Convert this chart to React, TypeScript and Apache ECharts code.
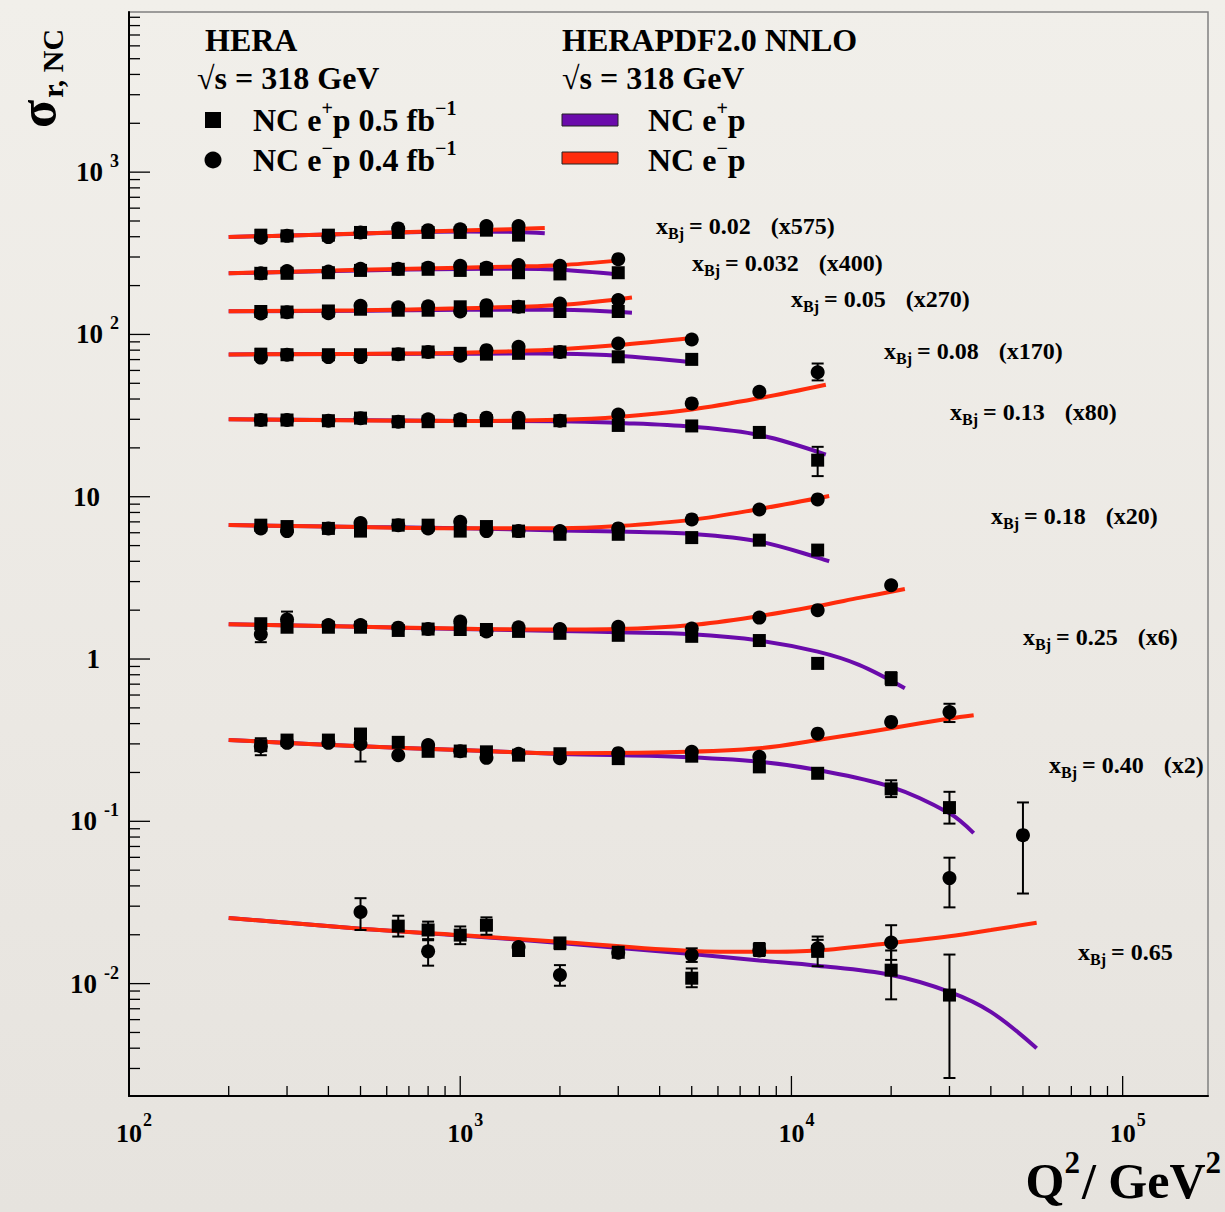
import React, { useEffect, useRef } from "react";
import * as echarts from "echarts";

const W = 1225;
const H = 1212;
const FONT = '"Liberation Serif", "Times New Roman", serif';
const PURPLE = "#6a0bab";
const RED = "#ff2c0c";

// ---------- axis ranges ----------
const X_MIN = 100;
const X_MAX = 181000;
const Y_MIN = 0.00203;
const Y_MAX = 9700;
const X_DECADES = [100, 1000, 10000, 100000];
const Y_DECADES = [0.001, 0.01, 0.1, 1, 10, 100, 1000];

// ---------- Q² bins of the measurements ----------
const Q2_BINS = [250, 300, 400, 500, 650, 800, 1000, 1200, 1500, 2000, 3000, 5000, 8000, 12000, 20000, 30000, 50000];

// ---------- bin labels ----------
const X_BJ = ["0.02", "0.032", "0.05", "0.08", "0.13", "0.18", "0.25", "0.40", "0.65"];
const SCALE_FACTORS = ["575", "400", "270", "170", "80", "20", "6", "2", ""];

// ---------- measured points (scaled), rows x = 0.02 ... 0.40 start at Q² = 250 ----------
const EP_R1 = [409, 405, 409, 425, 425, 425, 425, 439, 409];
const EM_R1 = [394, 405, 398, 425, 450, 439, 445, 465, 465];
const EP_R2 = [238, 238, 240, 248, 252, 252, 248, 252, 240, 236, 240];
const EM_R2 = [238, 246, 244, 254, 254, 258, 265, 258, 268, 265, 291];
const EP_R3 = [138.5, 137.5, 139.5, 143, 141, 141, 148, 139.5, 148, 138.5, 138.5];
const EM_R3 = [134.6, 137, 135, 150, 147, 149, 138.5, 151.5, 148, 155, 163];
const EP_R4 = [75.6, 75, 75, 75, 75.6, 78, 76.5, 75.6, 76.5, 78, 72.8, 70.2];
const EM_R4 = [72, 75, 72.5, 72.5, 75.6, 78, 74, 80, 84, 78, 88, 93];
const EP_R5 = [29.7, 29.7, 29.4, 30.5, 29.0, 29.0, 29.4, 29.4, 28.5, 29.4, 27.5, 27.3, 24.9, 16.8];
const EM_R5 = [29.7, 29.7, 29.4, 30.5, 29.0, 30.0, 30.0, 30.7, 30.7, 29.4, 32.1, 37.6, 44.3, 58.5];
const EP_R6 = [6.68, 6.55, 6.38, 6.14, 6.68, 6.68, 6.14, 6.55, 6.14, 5.87, 5.87, 5.6, 5.4, 4.69];
const EM_R6 = [6.38, 6.14, 6.38, 6.88, 6.68, 6.38, 7.0, 6.14, 6.14, 6.14, 6.38, 7.25, 8.35, 9.63];
const EP_R7 = [1.65, 1.57, 1.57, 1.57, 1.5, 1.53, 1.52, 1.52, 1.48, 1.44, 1.4, 1.38, 1.3, 0.94, 0.76];
const EM_R7 = [1.42, 1.75, 1.62, 1.62, 1.56, 1.53, 1.7, 1.48, 1.57, 1.53, 1.58, 1.54, 1.8, 2.0, 2.85];
const EP_R8 = [0.2925, 0.3166, 0.3166, 0.345, 0.3067, 0.27, 0.271, 0.268, 0.2555, 0.2608, 0.2434, 0.252, 0.2165, 0.1977, 0.1585, 0.1215];
const EM_R8 = [0.29, 0.3045, 0.3045, 0.3, 0.2555, 0.295, 0.27, 0.246, 0.2608, 0.245, 0.263, 0.268, 0.2497, 0.347, 0.4097, 0.471];
// x = 0.65 row (own Q² lists)
const Q2_R9_EP = [650, 800, 1000, 1200, 1500, 2000, 3000, 5000, 8000, 12000, 20000, 30000];
const EP_R9 = [0.0226, 0.0214, 0.0199, 0.0229, 0.016, 0.0178, 0.0156, 0.0108, 0.0162, 0.0158, 0.0121, 0.0085];
const Q2_R9_EM = [500, 800, 1500, 2000, 3000, 5000, 8000, 12000, 20000, 30000, 50000];
const EM_R9 = [0.0276, 0.0158, 0.0168, 0.0113, 0.0155, 0.015, 0.016, 0.0165, 0.0179, 0.0447, 0.0822];

// ---------- error bars [Q², low, high] ----------
const ERR_EP = [
  [12000, 13.4, 20.3],
  [20000, 0.69, 0.83],
  [250, 0.2555, 0.325],
  [20000, 0.141, 0.179],
  [30000, 0.0968, 0.152],
  [650, 0.0195, 0.0262],
  [800, 0.0188, 0.0241],
  [1000, 0.0175, 0.0225],
  [1200, 0.02, 0.0256],
  [2000, 0.0163, 0.019],
  [5000, 0.0095, 0.0124],
  [8000, 0.0148, 0.0178],
  [12000, 0.0128, 0.0186],
  [20000, 0.008, 0.016],
  [30000, 0.00262, 0.0151],
];
const ERR_EM = [
  [12000, 52.1, 66.2],
  [250, 1.27, 1.56],
  [300, 1.55, 1.96],
  [500, 0.2336, 0.36],
  [30000, 0.409, 0.53],
  [500, 0.0214, 0.0336],
  [800, 0.0129, 0.0185],
  [2000, 0.0097, 0.013],
  [5000, 0.0136, 0.0165],
  [12000, 0.015, 0.0195],
  [20000, 0.014, 0.0229],
  [30000, 0.0295, 0.0597],
  [50000, 0.0359, 0.1307],
];

// ---------- HERAPDF2.0 NNLO curves: Q² nodes and values ----------
const CQ_R1 = [200, 500, 1000, 1500, 1800];
const CEP_R1 = [398, 418, 431, 428, 420];
const CEM_R1 = [398, 419, 437, 447, 452];
const CQ_R2 = [200, 500, 1000, 1500, 2000, 3000];
const CEP_R2 = [238, 248, 253, 254, 250, 234];
const CEM_R2 = [238, 250, 258, 262, 267, 285];
const CQ_R3 = [200, 500, 1000, 2000, 3300];
const CEP_R3 = [139, 140, 142, 142, 136];
const CEM_R3 = [139, 141, 145, 152, 169];
const CQ_R4 = [200, 800, 1500, 2000, 3000, 5000];
const CEP_R4 = [75.3, 76, 76.2, 76, 74, 67.5];
const CEM_R4 = [75.3, 76.5, 79, 81, 86, 95];
const CQ_R5 = [200, 1000, 2000, 3000, 5000, 8000, 12700];
const CEP_R5 = [30, 29.3, 29.2, 28.5, 27, 24, 18.2];
const CEM_R5 = [30, 29.3, 29.8, 31, 34.5, 40.5, 49];
const CQ_R6 = [200, 500, 1000, 2000, 3000, 5000, 8000, 13000];
const CEP_R6 = [6.7, 6.5, 6.4, 6.2, 6.1, 5.9, 5.3, 4.0];
const CEM_R6 = [6.7, 6.5, 6.4, 6.4, 6.6, 7.2, 8.4, 10.1];
const CQ_R7 = [200, 500, 1000, 2000, 3000, 5000, 8000, 12000, 16000, 22000];
const CEP_R7 = [1.64, 1.58, 1.53, 1.49, 1.46, 1.42, 1.3, 1.11, 0.92, 0.66];
const CEM_R7 = [1.64, 1.58, 1.54, 1.52, 1.53, 1.62, 1.84, 2.12, 2.38, 2.7];
const CQ_R8 = [200, 500, 1000, 2000, 4500, 8000, 12000, 20000, 30000, 35500];
const CEP_R8 = [0.317, 0.29, 0.275, 0.26, 0.25, 0.233, 0.207, 0.163, 0.112, 0.0845];
const CEM_R8 = [0.317, 0.29, 0.275, 0.263, 0.267, 0.282, 0.317, 0.375, 0.43, 0.451];
const CQ_R9 = [200, 500, 1000, 2000, 5000, 8000, 12000, 20000, 30000, 40000, 55000];
const CEP_R9 = [0.0254, 0.0218, 0.0198, 0.0178, 0.0152, 0.0139, 0.0129, 0.0113, 0.0089, 0.0067, 0.004];
const CEM_R9 = [0.0254, 0.0218, 0.0199, 0.0181, 0.0159, 0.0157, 0.016, 0.0178, 0.0196, 0.0214, 0.0237];

// ---------- layout (positions of annotation texts) ----------
const LABEL_POS = [
  [656, 226], [692, 263], [791, 299], [884, 351], [950, 412],
  [991, 516], [1023, 637], [1049, 765], [1078, 952],
];

// ---------- helpers ----------
let measureCtx: CanvasRenderingContext2D | null = null;
function measure(text: string, size: number): number {
  if (!measureCtx) measureCtx = document.createElement("canvas").getContext("2d");
  if (!measureCtx) return text.length * size * 0.5;
  measureCtx.font = `bold ${size}px ${FONT}`;
  return measureCtx.measureText(text).width;
}

type Part = { t: string; s: number; dy?: number; gap?: number };

function partsWidth(parts: Part[]): number {
  let w = 0;
  for (const p of parts) w += (p.gap || 0) + measure(p.t, p.s);
  return w;
}

function textEl(t: string, s: number, x: number, y: number, fill = "#000") {
  return {
    type: "text",
    x,
    y,
    silent: true,
    style: {
      text: t,
      fontSize: s,
      fontWeight: "bold",
      fontFamily: FONT,
      fill,
      align: "left",
      verticalAlign: "middle",
      textAlign: "left",
      textVerticalAlign: "middle",
    },
  };
}

function partsEls(parts: Part[], x0: number, y0: number, anchor: "left" | "right" | "center" = "left") {
  const total = partsWidth(parts);
  let cx = anchor === "left" ? x0 : anchor === "right" ? x0 - total : x0 - total / 2;
  const els: any[] = [];
  for (const p of parts) {
    cx += p.gap || 0;
    els.push(textEl(p.t, p.s, cx, y0 + (p.dy || 0)));
    cx += measure(p.t, p.s);
  }
  return els;
}

function zip(q: number[], v: number[]) {
  return v.map((val, i) => [q[i], val]);
}

const POINT_ROWS_EP = [EP_R1, EP_R2, EP_R3, EP_R4, EP_R5, EP_R6, EP_R7, EP_R8];
const POINT_ROWS_EM = [EM_R1, EM_R2, EM_R3, EM_R4, EM_R5, EM_R6, EM_R7, EM_R8];
const CURVES = [
  [CQ_R1, CEP_R1, CEM_R1],
  [CQ_R2, CEP_R2, CEM_R2],
  [CQ_R3, CEP_R3, CEM_R3],
  [CQ_R4, CEP_R4, CEM_R4],
  [CQ_R5, CEP_R5, CEM_R5],
  [CQ_R6, CEP_R6, CEM_R6],
  [CQ_R7, CEP_R7, CEM_R7],
  [CQ_R8, CEP_R8, CEM_R8],
  [CQ_R9, CEP_R9, CEM_R9],
];

function buildTicks() {
  const data: number[][] = [];
  for (const d of X_DECADES) {
    for (let m = 1; m <= 9; m++) {
      const v = d * m;
      if (v >= X_MIN && v <= X_MAX) data.push([v, Y_MIN, m === 1 ? 1 : 0]);
    }
  }
  for (const d of Y_DECADES) {
    for (let m = 1; m <= 9; m++) {
      const v = d * m;
      if (v >= Y_MIN && v <= Y_MAX) data.push([X_MIN, v, m === 1 ? 3 : 2]);
    }
  }
  return data;
}

function buildOption() {
  const epPoints: number[][] = [];
  const emPoints: number[][] = [];
  POINT_ROWS_EP.forEach((row) => epPoints.push(...zip(Q2_BINS, row)));
  POINT_ROWS_EM.forEach((row) => emPoints.push(...zip(Q2_BINS, row)));
  epPoints.push(...zip(Q2_R9_EP, EP_R9));
  emPoints.push(...zip(Q2_R9_EM, EM_R9));

  const series: any[] = [];
  CURVES.forEach(([q, ep, em], i) => {
    series.push({
      type: "line",
      name: "NC e+p fit " + X_BJ[i],
      data: zip(q, ep),
      smooth: 0.35,
      showSymbol: false,
      symbol: "none",
      silent: true,
      z: 2,
      lineStyle: { color: PURPLE, width: 4, opacity: 1 },
      itemStyle: { color: PURPLE },
    });
    series.push({
      type: "line",
      name: "NC e-p fit " + X_BJ[i],
      data: zip(q, em),
      smooth: 0.35,
      showSymbol: false,
      symbol: "none",
      silent: true,
      z: 3,
      lineStyle: { color: RED, width: 4, opacity: 1 },
      itemStyle: { color: RED },
    });
  });

  const errRender = (params: any, api: any) => {
    const q = api.value(0);
    const a = api.coord([q, api.value(1)]);
    const b = api.coord([q, api.value(2)]);
    const st = { stroke: "#000", lineWidth: 2 };
    return {
      type: "group",
      children: [
        { type: "line", shape: { x1: a[0], y1: a[1], x2: b[0], y2: b[1] }, style: st },
        { type: "line", shape: { x1: a[0] - 6, y1: a[1], x2: a[0] + 6, y2: a[1] }, style: st },
        { type: "line", shape: { x1: b[0] - 6, y1: b[1], x2: b[0] + 6, y2: b[1] }, style: st },
      ],
    };
  };
  series.push({ type: "custom", name: "err e+p", data: ERR_EP, renderItem: errRender, z: 4, silent: true, clip: false });
  series.push({ type: "custom", name: "err e-p", data: ERR_EM, renderItem: errRender, z: 4, silent: true, clip: false });

  series.push({
    type: "scatter",
    name: "NC e+p 0.5 fb-1",
    data: epPoints,
    symbol: "rect",
    symbolSize: 13,
    itemStyle: { color: "#000", opacity: 1 },
    silent: true,
    z: 5,
  });
  series.push({
    type: "scatter",
    name: "NC e-p 0.4 fb-1",
    data: emPoints,
    symbol: "circle",
    symbolSize: 14,
    itemStyle: { color: "#000", opacity: 1 },
    silent: true,
    z: 5,
  });

  // axis ticks + labels, placed through the axes' own scales
  series.push({
    type: "custom",
    name: "axes",
    data: buildTicks(),
    silent: true,
    clip: false,
    z: 6,
    renderItem: (params: any, api: any) => {
      const v0 = api.value(0);
      const v1 = api.value(1);
      const kind = api.value(2);
      const p = api.coord([v0, v1]);
      const st = { stroke: "#000", lineWidth: 1.3 };
      const children: any[] = [];
      if (kind === 0 || kind === 1) {
        const len = kind === 1 ? 20 : 10;
        children.push({ type: "line", shape: { x1: p[0], y1: p[1], x2: p[0], y2: p[1] - len }, style: st });
        if (kind === 1) {
          const e = Math.round(Math.log10(v0));
          const wb = measure("10", 26);
          children.push(textEl("10", 26, p[0] - wb / 2, p[1] + 37));
          children.push(textEl(String(e), 18, p[0] + wb / 2 + 1, p[1] + 24));
        }
      } else {
        const len = kind === 3 ? 21 : 11;
        children.push({ type: "line", shape: { x1: p[0], y1: p[1], x2: p[0] + len, y2: p[1] }, style: st });
        if (kind === 3) {
          const e = Math.round(Math.log10(v1));
          if (e === 0 || e === 1) {
            const t = e === 0 ? "1" : "10";
            children.push(textEl(t, 27, p[0] - 29 - measure(t, 27), p[1]));
          } else {
            const sup = String(e);
            const ws = measure(sup, 18);
            const sx = p[0] - 10 - ws;
            children.push(textEl(sup, 18, sx, p[1] - 11));
            children.push(textEl("10", 27, sx - 7 - measure("10", 27), p[1]));
          }
        }
      }
      return { type: "group", children };
    },
  });

  // ---------- graphic: annotations, legend, titles ----------
  const graphic: any[] = [];
  X_BJ.forEach((xb, i) => {
    const parts: Part[] = [
      { t: "x", s: 24 },
      { t: "Bj", s: 16, dy: 7 },
      { t: "=", s: 24, gap: 5 },
      { t: xb, s: 24, gap: 6 },
    ];
    if (SCALE_FACTORS[i]) parts.push({ t: `(x${SCALE_FACTORS[i]})`, s: 24, gap: 20 });
    graphic.push(...partsEls(parts, LABEL_POS[i][0], LABEL_POS[i][1]));
  });

  // legend left
  graphic.push(...partsEls([{ t: "HERA", s: 32 }], 205, 40));
  graphic.push(...partsEls([{ t: "√s = 318 GeV", s: 32 }], 197, 78));
  graphic.push({ type: "rect", shape: { x: 205, y: 112, width: 16, height: 16 }, style: { fill: "#000" }, silent: true });
  graphic.push(
    ...partsEls(
      [
        { t: "NC e", s: 32 },
        { t: "+", s: 20, dy: -12 },
        { t: "p 0.5 fb", s: 32 },
        { t: "−1", s: 20, dy: -12 },
      ],
      253,
      120
    )
  );
  graphic.push({ type: "circle", shape: { cx: 213, cy: 160, r: 8.5 }, style: { fill: "#000" }, silent: true });
  graphic.push(
    ...partsEls(
      [
        { t: "NC e", s: 32 },
        { t: "−", s: 20, dy: -12 },
        { t: "p 0.4 fb", s: 32 },
        { t: "−1", s: 20, dy: -12 },
      ],
      253,
      160
    )
  );
  // legend right
  graphic.push(...partsEls([{ t: "HERAPDF2.0 NNLO", s: 32 }], 562, 40));
  graphic.push(...partsEls([{ t: "√s = 318 GeV", s: 32 }], 562, 78));
  graphic.push({ type: "rect", shape: { x: 562, y: 114, width: 56, height: 12 }, style: { fill: PURPLE, stroke: "#222", lineWidth: 1 }, silent: true });
  graphic.push(...partsEls([{ t: "NC e", s: 32 }, { t: "+", s: 20, dy: -12 }, { t: "p", s: 32 }], 648, 120));
  graphic.push({ type: "rect", shape: { x: 562, y: 152, width: 56, height: 12 }, style: { fill: RED, stroke: "#222", lineWidth: 1 }, silent: true });
  graphic.push(...partsEls([{ t: "NC e", s: 32 }, { t: "−", s: 20, dy: -12 }, { t: "p", s: 32 }], 648, 160));

  // y title (rotated)
  graphic.push({
    type: "group",
    x: 37,
    y: 128,
    rotation: Math.PI / 2,
    silent: true,
    children: partsEls([{ t: "σ", s: 52 }, { t: "r, NC", s: 30, dy: 15, gap: 2 }], 0, 0),
  });
  // x title
  graphic.push(
    ...partsEls(
      [
        { t: "Q", s: 50 },
        { t: "2", s: 31, dy: -19 },
        { t: "/ GeV", s: 50, gap: 2 },
        { t: "2", s: 31, dy: -19 },
      ],
      1221,
      1181,
      "right"
    )
  );

  const axisCommon = {
    type: "log",
    logBase: 10,
    axisLine: { show: true, onZero: false, lineStyle: { color: "#000", width: 2 } },
    axisTick: { show: false },
    axisLabel: { show: false },
    splitLine: { show: false },
    minorTick: { show: false },
    minorSplitLine: { show: false },
  };

  return {
    animation: false,
    backgroundColor: "transparent",
    tooltip: { show: false },
    grid: {
      left: 129,
      top: 12,
      right: 17,
      bottom: 116,
      show: true,
      borderColor: "#808080",
      borderWidth: 1.5,
      backgroundColor: "transparent",
      containLabel: false,
      outerBoundsMode: "none",
    },
    xAxis: { ...axisCommon, min: X_MIN, max: X_MAX },
    yAxis: { ...axisCommon, min: Y_MIN, max: Y_MAX },
    series,
    graphic,
  };
}

export default function App() {
  const ref = useRef<HTMLDivElement>(null);
  useEffect(() => {
    document.body.style.margin = "0";
    if (!ref.current) return;
    const chart = echarts.init(ref.current, null, { renderer: "svg" });
    chart.setOption(buildOption() as any);
    return () => chart.dispose();
  }, []);
  return (
    <div
      style={{
        position: "fixed",
        left: 0,
        top: 0,
        width: W,
        height: H,
        overflow: "hidden",
        background: "linear-gradient(180deg, #f1efea 0%, #ebe8e3 60%, #e6e3de 100%)",
      }}
    >
      <div ref={ref} style={{ width: W, height: H }} />
    </div>
  );
}
